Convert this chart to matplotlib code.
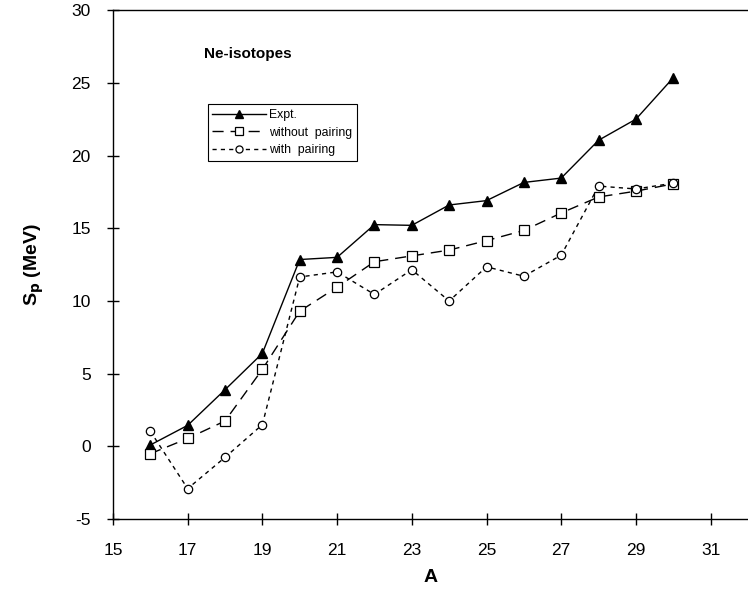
import numpy as np
import matplotlib
matplotlib.use("Agg")
import matplotlib.pyplot as plt

plt.rcParams['font.family'] = ['Liberation Sans', 'DejaVu Sans']
plt.rcParams['axes.unicode_minus'] = False

# mass number
A = [16, 17, 18, 19, 20, 21, 22, 23, 24, 25, 26, 27, 28, 29, 30]

# proton separation energies (MeV)
expt = [0.1, 1.45, 3.9, 6.4, 12.85, 13.0, 15.25, 15.2, 16.6, 16.9, 18.15, 18.45, 21.05, 22.5, 25.35]
without_pairing = [-0.5, 0.55, 1.75, 5.3, 9.3, 10.95, 12.7, 13.1, 13.5, 14.15, 14.85, 16.05, 17.15, 17.55, 18.05]
with_pairing = [1.05, -2.9, -0.75, 1.5, 11.65, 12.0, 10.45, 12.15, 10.0, 12.35, 11.7, 13.15, 17.9, 17.7, 18.1]

xticks = [15, 17, 19, 21, 23, 25, 27, 29, 31]
yticks = [-5, 0, 5, 10, 15, 20, 25, 30]

fig = plt.figure(figsize=(7.48, 5.92), dpi=100)
ax = fig.add_axes([0.151, 0.123, 0.849, 0.860])

ax.plot(A, expt, color='black', lw=1.0, ls='-', marker='^', ms=7,
        mfc='black', mec='black', label='Expt.')
ax.plot(A, without_pairing, color='black', lw=1.0, ls=(0, (8, 5)), marker='s', ms=7,
        mfc='white', mec='black', mew=0.9, label='without  pairing')
ax.plot(A, with_pairing, color='black', lw=1.0, ls=(0, (3, 3)), marker='o', ms=6,
        mfc='white', mec='black', mew=0.9, label='with  pairing')

ax.set_xlim(15, 32)
ax.set_ylim(-5, 30)
ax.set_xticks(xticks)
ax.set_yticks(yticks)
ax.tick_params(direction='inout', length=8, width=1, labelsize=12.5)
ax.tick_params(axis='x', pad=13)
ax.tick_params(axis='y', pad=12)
ax.spines['right'].set_visible(False)
for s in ['left', 'bottom', 'top']:
    ax.spines[s].set_linewidth(1.0)

ax.set_xlabel('A', fontsize=14, fontweight='bold', labelpad=8)
ax.set_ylabel(r'S$_\mathbf{p}$ (MeV)', fontsize=14, fontweight='bold', labelpad=18)

ax.text(17.45, 27.0, 'Ne-isotopes', fontsize=11, fontweight='bold', va='center', ha='left')

leg = ax.legend(loc='upper left', bbox_to_anchor=(0.149, 0.815), fontsize=8.8,
                frameon=True, fancybox=False, edgecolor='black', framealpha=1,
                handlelength=4.4, handletextpad=0.2, borderpad=0.4,
                labelspacing=0.45, borderaxespad=0, markerscale=0.85)
leg.get_frame().set_linewidth(0.8)

fig.savefig('out.png', dpi=100)
